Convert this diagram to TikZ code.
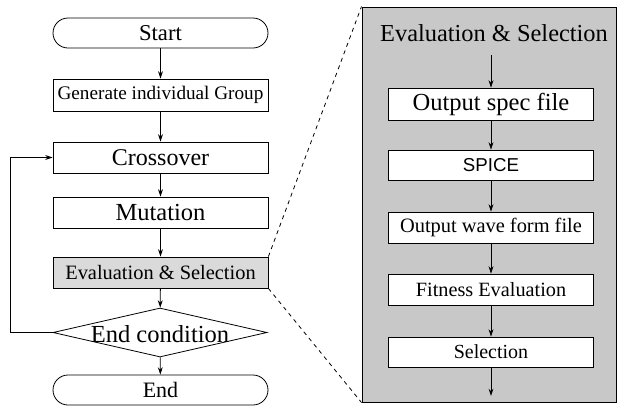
\documentclass[tikz,border=0pt]{standalone}
\usepackage{fontspec}
\setmainfont{Liberation Serif}
\newfontfamily\arialf{Liberation Sans}
\usetikzlibrary{shapes.geometric,arrows.meta}
\newcommand\fsz[1]{\fontsize{#1}{#1}\selectfont}
\definecolor{dotgray}{RGB}{200,200,200}
\definecolor{lightdot}{RGB}{218,218,218}
\begin{document}
\begin{tikzpicture}[x=0.75pt,y=-0.75pt,
  lbox/.style={draw,fill=white,inner sep=0,line width=0.6pt,minimum width=161.25pt,minimum height=23.25pt},
  stad/.style={lbox,rounded corners=11.25pt,minimum height=22.5pt},
  rbox/.style={draw,fill=white,inner sep=0,line width=0.6pt,minimum width=153.75pt,minimum height=23.25pt},
  arr/.style={-{Stealth[length=5.5pt,width=3.6pt]},line width=0.6pt},
  zoomline/.style={dashed,line width=0.6pt}]
\useasboundingbox (0,0) rectangle (619,405);
% left column
\node[stad,font=\fsz{17pt}] (start) at (160.5,33) {Start};
\node[lbox,minimum height=24pt,font=\fsz{14.4pt}] (gen) at (160.5,95) {Generate individual Group};
\node[lbox,font=\fsz{18pt}] (cross) at (160.5,157.5) {Crossover};
\node[lbox,font=\fsz{18.4pt}] (mut) at (160.5,212.5) {Mutation};
\node[lbox,fill=lightdot,font=\fsz{15.3pt}] (evl) at (160.5,272.5) {Evaluation \& Selection};
\node[draw,diamond,fill=white,inner sep=0,line width=0.6pt,minimum width=160.5pt,minimum height=36.75pt,
  label={[font=\fsz{18.4pt},yshift=-1.5pt]center:End condition}] (cond) at (160,332.5) {};
\node[stad,font=\fsz{16.5pt}] (end) at (160.5,390) {End};
\coordinate (loop) at (10,332.5);
\draw[arr] (start) -- (gen);
\draw[arr] (gen) -- (cross);
\draw[arr] (cross) -- (mut);
\draw[arr] (mut) -- (evl);
\draw[arr] (evl) -- (cond);
\draw[arr] (cond) -- (end);
\draw[arr] (cond.west) -- (loop) |- (cross.west);
% right detail box
\node[draw,fill=dotgray,inner sep=0,line width=0.75pt,minimum width=190.5pt,minimum height=296.25pt] (big) at (489,204.5) {};
\draw[zoomline] (evl.north east) -- (big.north west);
\draw[zoomline] (evl.south east) -- (big.south west);
\node[font=\fsz{18.3pt}] (title) at (494,33) {Evaluation \& Selection};
\node[rbox,minimum height=24pt,font=\fsz{18.4pt}] (ospec) at (491,104) {Output spec file};
\node[rbox,minimum height=22.5pt,font=\arialf\fsz{14pt}] (spice) at (491,165) {SPICE};
\node[rbox,font=\fsz{15.3pt}] (owave) at (491,227.5) {Output wave form file};
\node[rbox,font=\fsz{15.2pt}] (fit) at (491,289.5) {Fitness Evaluation};
\node[rbox,minimum height=22.5pt,font=\fsz{15pt}] (sel) at (491,352) {Selection};
\coordinate (tin) at (491,55);
\coordinate (tout) at (491,396);
\draw[arr] (tin) -- (ospec);
\draw[arr] (ospec) -- (spice);
\draw[arr] (spice) -- (owave);
\draw[arr] (owave) -- (fit);
\draw[arr] (fit) -- (sel);
\draw[arr] (sel) -- (tout);
\end{tikzpicture}
\end{document}
